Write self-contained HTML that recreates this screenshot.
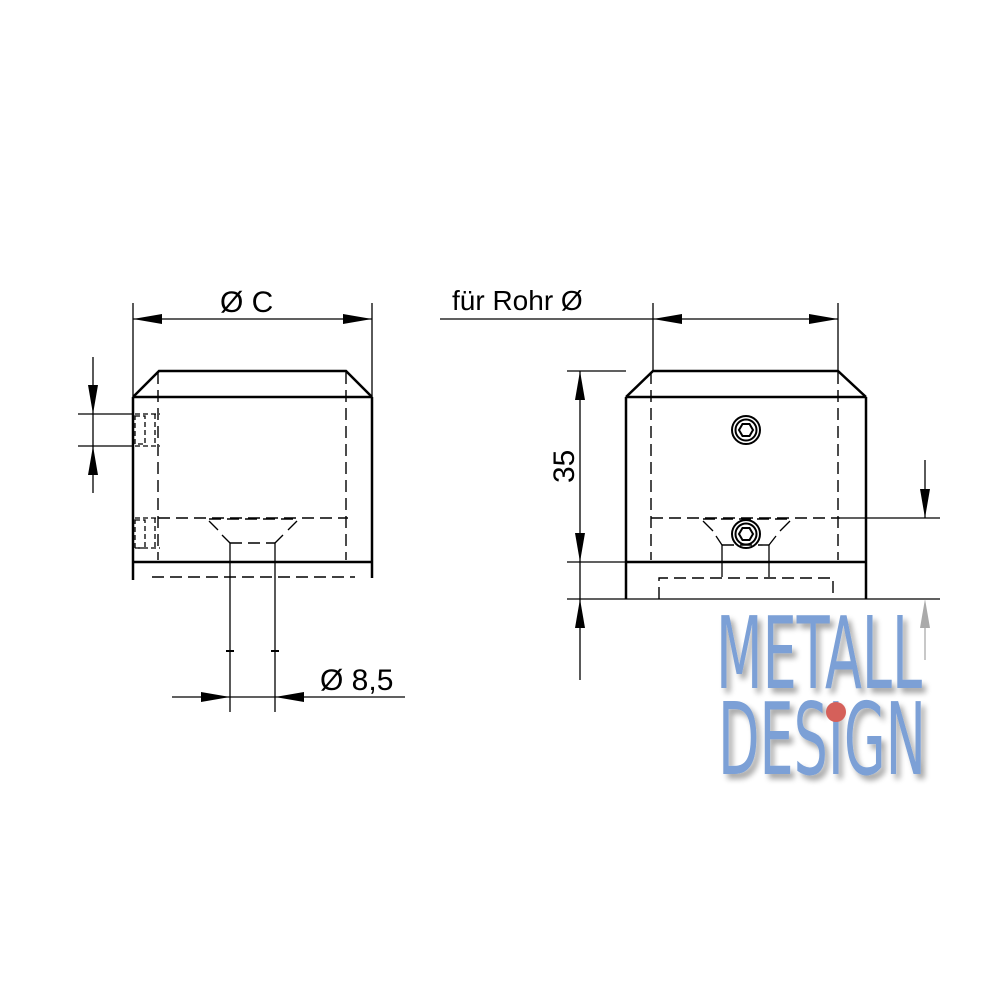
<!DOCTYPE html>
<html><head><style>html,body{margin:0;padding:0;background:#fff}svg{display:block}</style></head>
<body>
<svg width="998" height="998" viewBox="0 0 998 998" xmlns="http://www.w3.org/2000/svg" font-family="Liberation Sans, sans-serif">
<defs>
<filter id="sh" x="-10%" y="-10%" width="130%" height="140%"><feGaussianBlur in="SourceAlpha" stdDeviation="3"/><feOffset dx="4" dy="5"/><feComponentTransfer><feFuncA type="linear" slope="0.35"/></feComponentTransfer><feMerge><feMergeNode/><feMergeNode in="SourceGraphic"/></feMerge></filter>
</defs>
<g stroke="#000" fill="none">
<g stroke-width="2.5">
<polyline points="133,397 159,371 346,371 372,397"/>
<line x1="133" y1="397" x2="372" y2="397"/>
<line x1="133" y1="397" x2="133" y2="580"/>
<line x1="372" y1="397" x2="372" y2="578"/>
<line x1="133" y1="562" x2="372" y2="562"/>
</g>
<g stroke-width="1.4" stroke-dasharray="12,6">
<line x1="158" y1="372" x2="158" y2="560"/>
<line x1="346" y1="372" x2="346" y2="560"/>
<line x1="158" y1="518" x2="348" y2="518"/>
<line x1="152" y1="577" x2="355" y2="577"/>
<line x1="209" y1="519" x2="297" y2="519"/>
<line x1="230" y1="543" x2="275" y2="543"/>
</g>
<g stroke-width="1.3" stroke-dasharray="5,3">
<rect x="135" y="416" width="10" height="28"/>
<line x1="135" y1="414" x2="160" y2="414"/><line x1="135" y1="446" x2="160" y2="446"/>
<line x1="155" y1="414" x2="155" y2="446"/>
<rect x="135" y="520" width="10" height="28"/>
<line x1="135" y1="518" x2="160" y2="518"/><line x1="135" y1="548" x2="160" y2="548"/>
<line x1="155" y1="518" x2="155" y2="548"/>
</g>
<g stroke-width="1.3">
<line x1="209" y1="521" x2="218" y2="530"/><line x1="297" y1="521" x2="288" y2="530"/>
<line x1="222" y1="535" x2="230" y2="543"/><line x1="283" y1="535" x2="275" y2="543"/>
<line x1="230" y1="543" x2="230" y2="712"/><line x1="275" y1="543" x2="275" y2="712"/>
<line x1="226" y1="651" x2="234" y2="651" stroke-width="2"/><line x1="271" y1="651" x2="279" y2="651" stroke-width="2"/>
<line x1="172" y1="697" x2="405" y2="697"/>
<line x1="133" y1="303" x2="133" y2="397"/><line x1="372" y1="303" x2="372" y2="397"/>
<line x1="133" y1="319" x2="372" y2="319"/>
<line x1="93" y1="357" x2="93" y2="493"/>
<line x1="78" y1="414" x2="133" y2="414"/><line x1="78" y1="446" x2="133" y2="446"/>
</g>
<g stroke-width="2.5">
<polyline points="626,397 653,371 838,371 866,397"/>
<line x1="626" y1="397" x2="866" y2="397"/>
<line x1="626" y1="397" x2="626" y2="599"/>
<line x1="866" y1="397" x2="866" y2="599"/>
<line x1="626" y1="562" x2="866" y2="562"/>
</g>
<g stroke-width="1.4" stroke-dasharray="12,6">
<line x1="651" y1="372" x2="651" y2="560"/>
<line x1="838" y1="372" x2="838" y2="560"/>
<line x1="651" y1="518" x2="840" y2="518"/>
<polyline points="659,599 659,578 833,578 833,599"/>
<line x1="703" y1="519" x2="790" y2="519"/>
<line x1="722" y1="545" x2="769" y2="545"/>
</g>
<g stroke-width="1.3">
<line x1="703" y1="521" x2="713" y2="531"/><line x1="790" y1="521" x2="780" y2="531"/>
<line x1="716" y1="536" x2="722" y2="545"/><line x1="776" y1="536" x2="769" y2="545"/>
<line x1="722" y1="545" x2="722" y2="577"/><line x1="769" y1="545" x2="769" y2="577"/>
<line x1="840" y1="518" x2="940" y2="518"/>
<line x1="440" y1="319" x2="838" y2="319"/>
<line x1="653" y1="303" x2="653" y2="371"/><line x1="838" y1="303" x2="838" y2="371"/>
<line x1="567" y1="371" x2="626" y2="371"/><line x1="567" y1="562" x2="626" y2="562"/>
<line x1="567" y1="599" x2="940" y2="599"/>
<line x1="580" y1="371" x2="580" y2="680"/>
<line x1="925" y1="460" x2="925" y2="518"/>
</g>
<g stroke-width="2">
<circle cx="746" cy="430" r="14"/><circle cx="746" cy="430" r="10.5"/>
<polygon points="753,430 749.5,436 742.5,436 739,430 742.5,424 749.5,424"/>
<circle cx="746" cy="534" r="14"/><circle cx="746" cy="534" r="10.5"/>
<polygon points="753,534 749.5,540 742.5,540 739,534 742.5,528 749.5,528"/>
</g>
<line x1="925" y1="610" x2="925" y2="660" stroke="#aaa" stroke-width="1.3"/>
</g>
<g fill="#000">
<polygon points="133,319 162,314 162,324"/><polygon points="372,319 343,314 343,324"/>
<polygon points="230,697 201,692 201,702"/><polygon points="275,697 304,692 304,702"/>
<polygon points="93,414 88,385 98,385"/><polygon points="93,446 88,475 98,475"/>
<polygon points="653,319 682,314 682,324"/><polygon points="838,319 809,314 809,324"/>
<polygon points="580,371 575,400 585,400"/><polygon points="580,562 575,533 585,533"/>
<polygon points="580,599 575,628 585,628"/>
<polygon points="925,518 920,489 930,489"/>
</g>
<polygon points="925,599 920,628 930,628" fill="#aaa"/>
<g font-size="30" fill="#000">
<text x="220" y="312">Ø C</text>
<text x="320" y="690">Ø 8,5</text>
<text x="452" y="310" font-size="28">für Rohr Ø</text>
<text transform="translate(574,483) rotate(-90)" font-size="30">35</text>
</g>
<g filter="url(#sh)" fill="#7ba0d6" font-family="DejaVu Sans Condensed, Liberation Sans Narrow, sans-serif">
<text x="716" y="688" font-size="100" textLength="206" lengthAdjust="spacingAndGlyphs">METALL</text>
<text x="718" y="774" font-size="100" textLength="208" lengthAdjust="spacingAndGlyphs">DESIGN</text>
</g>
<circle cx="836" cy="712" r="10" fill="#d5605a"/>
</svg>
</body></html>
